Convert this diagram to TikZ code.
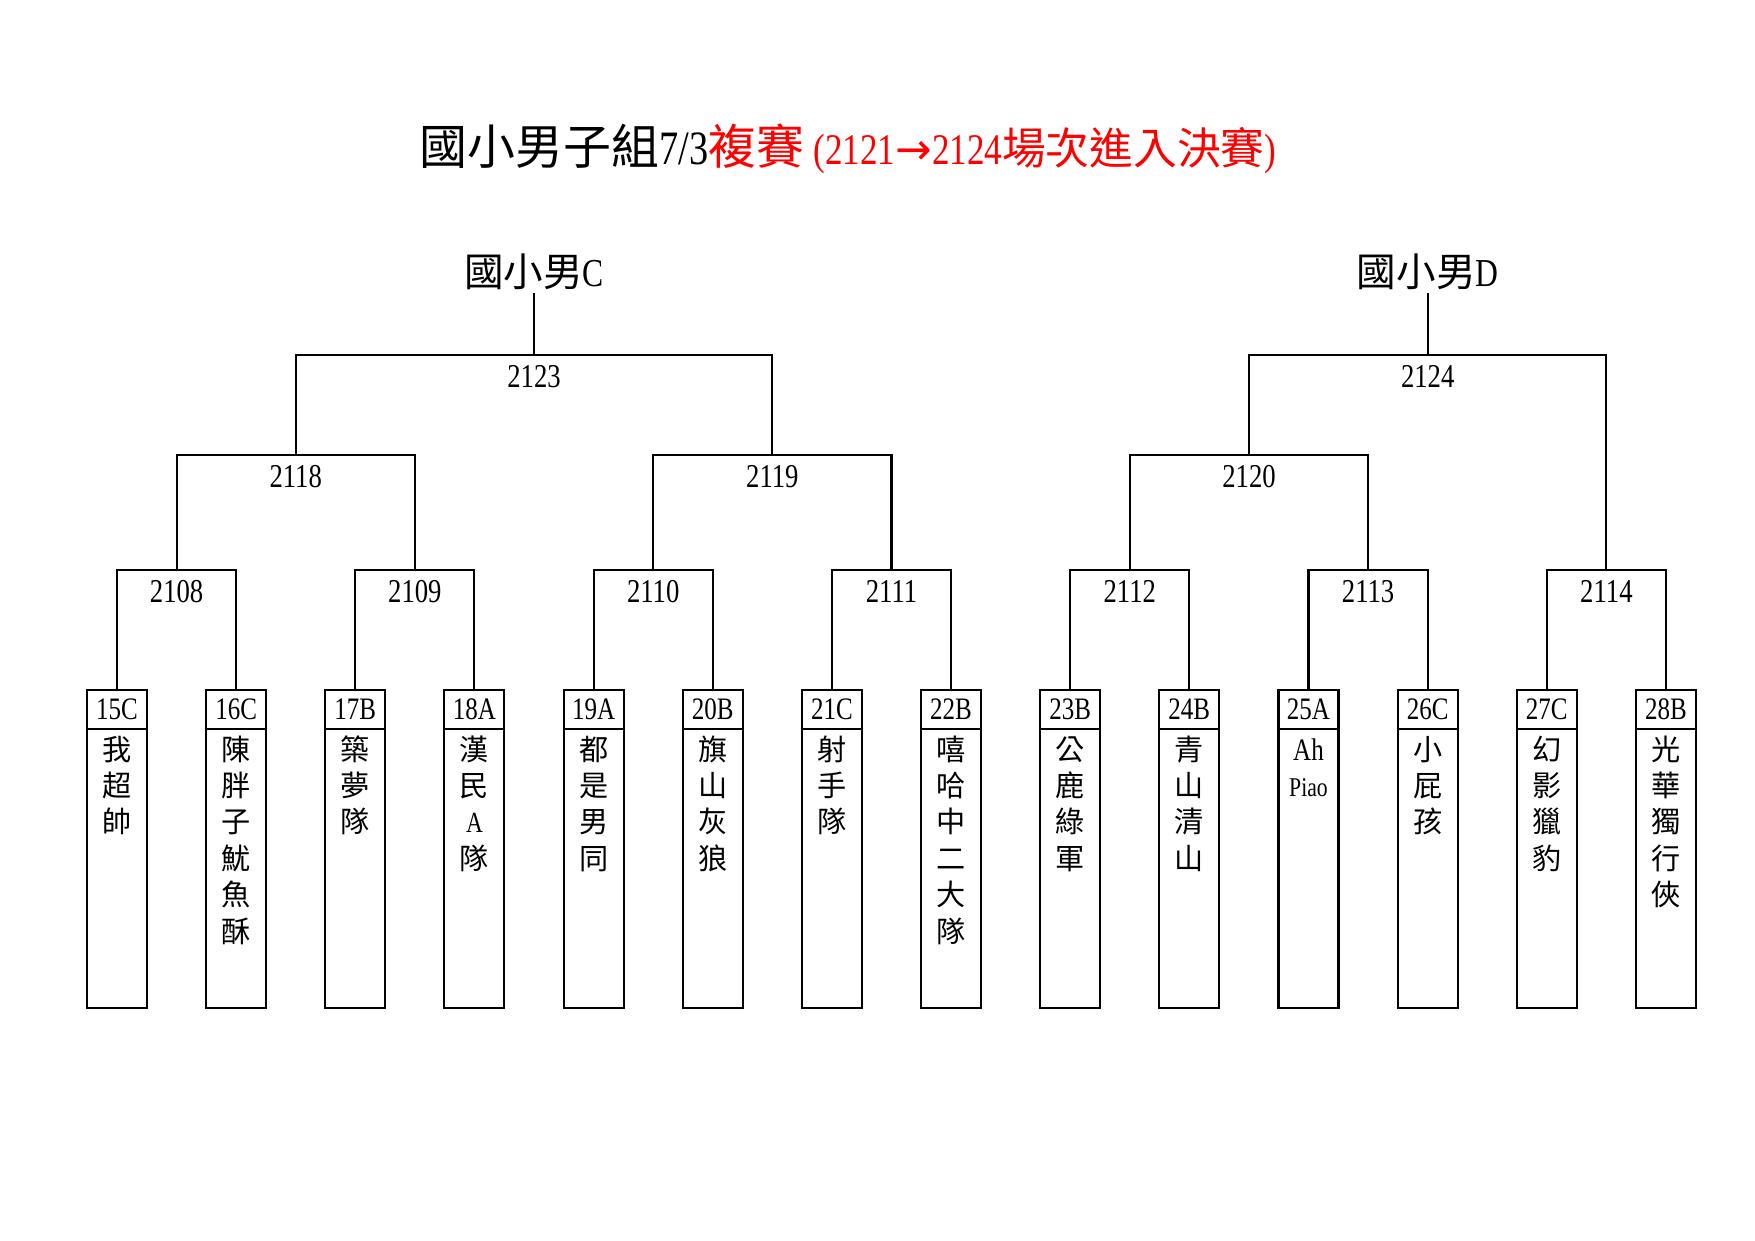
\documentclass[tikz,border=0pt]{standalone}
\usepackage{fontspec}
\setmainfont[FakeStretch=0.8]{Liberation Serif}
\newfontfamily\cjk{Noto Sans CJK TC}
\newfontfamily\sym{DejaVu Sans}
\usetikzlibrary{positioning}
\tikzset{
node distance=57.19pt, % centre to centre distance of two team boxes
team/.style={draw, outer sep=0pt, inner sep=0pt, minimum width=28.8pt, minimum height=18.7pt, font=\fontsize{15}{18}\selectfont}, % head of a team box
roster/.style={draw, outer sep=0pt, inner sep=0pt, text width=28.8pt, align=center, text height=14.9pt, text depth=119pt, font=\cjk\fontsize{14}{17.5}\selectfont}, % body of a team box
game/.style={anchor=north, inner xsep=0pt, inner ysep=4.5pt, font=\fontsize{16}{19}\selectfont}, % match number below a bracket
group/.style={anchor=south, inner sep=1pt, font=\fontsize{19}{22}\selectfont}, % group name on top
}

\begin{document}
\begin{tikzpicture}[x=0.48pt, y=-0.48pt, line width=1pt]
    \useasboundingbox (0,0) rectangle (1755,1241);
    \node[font=\fontsize{23}{27}\selectfont] (head) at (848,149) {{\cjk 國小男子組}7/3\textcolor{red}{{\cjk 複賽} \fontsize{21}{25}\selectfont(2121{\sym →}2124{\cjk 場次進入決賽})}};

    % teams
    \node[team] (t15C) at (117,709.5) {15C};
    \node[team, right of=t15C] (t16C) {16C};
    \node[team, right of=t16C] (t17B) {17B};
    \node[team, right of=t17B] (t18A) {18A};
    \node[team, right of=t18A] (t19A) {19A};
    \node[team, right of=t19A] (t20B) {20B};
    \node[team, right of=t20B] (t21C) {21C};
    \node[team, right of=t21C] (t22B) {22B};
    \node[team, right of=t22B] (t23B) {23B};
    \node[team, right of=t23B] (t24B) {24B};
    \node[team, right of=t24B] (t25A) {25A};
    \node[team, right of=t25A] (t26C) {26C};
    \node[team, right of=t26C] (t27C) {27C};
    \node[team, right of=t27C] (t28B) {28B};
    \node[roster, below=0pt of t15C] (r15C) {我\\超\\帥};
    \node[roster, below=0pt of t16C] (r16C) {陳\\胖\\子\\魷\\魚\\酥};
    \node[roster, below=0pt of t17B] (r17B) {築\\夢\\隊};
    \node[roster, below=0pt of t18A] (r18A) {漢\\民\\{\rmfamily A}\\隊};
    \node[roster, below=0pt of t19A] (r19A) {都\\是\\男\\同};
    \node[roster, below=0pt of t20B] (r20B) {旗\\山\\灰\\狼};
    \node[roster, below=0pt of t21C] (r21C) {射\\手\\隊};
    \node[roster, below=0pt of t22B] (r22B) {嘻\\哈\\中\\二\\大\\隊};
    \node[roster, below=0pt of t23B] (r23B) {公\\鹿\\綠\\軍};
    \node[roster, below=0pt of t24B] (r24B) {青\\山\\清\\山};
    \node[roster, below=0pt of t25A] (r25A) {{\rmfamily\fontsize{15}{16}\selectfont Ah}\\{\rmfamily\fontsize{13}{15}\selectfont Piao}};
    \node[roster, below=0pt of t26C] (r26C) {小\\屁\\孩};
    \node[roster, below=0pt of t27C] (r27C) {幻\\影\\獵\\豹};
    \node[roster, below=0pt of t28B] (r28B) {光\\華\\獨\\行\\俠};

    % matches
    \node[game] (m2108) at (176.6,570) {2108};
    \node[game] (m2109) at (414.9,570) {2109};
    \node[game] (m2110) at (653.2,570) {2110};
    \node[game] (m2111) at (891.5,570) {2111};
    \node[game] (m2112) at (1129.8,570) {2112};
    \node[game] (m2113) at (1368.1,570) {2113};
    \node[game] (m2114) at (1606.4,570) {2114};
    \node[game] (m2118) at (295.7,455) {2118};
    \node[game] (m2119) at (772.4,455) {2119};
    \node[game] (m2120) at (1249,455) {2120};
    \node[game] (m2123) at (534,355) {2123};
    \node[game] (m2124) at (1427.7,355) {2124};
    \node[group] (gC) at (534,293) {{\cjk 國小男}C};
    \node[group] (gD) at (1427.7,293) {{\cjk 國小男}D};

    \draw
    (t15C.north) |- (m2108.north) -| (t16C.north)
    (t17B.north) |- (m2109.north) -| (t18A.north)
    (t19A.north) |- (m2110.north) -| (t20B.north)
    (t21C.north) |- (m2111.north) -| (t22B.north)
    (t23B.north) |- (m2112.north) -| (t24B.north)
    (t25A.north) |- (m2113.north) -| (t26C.north)
    (t27C.north) |- (m2114.north) -| (t28B.north)
    (m2108.north) |- (m2118.north) -| (m2109.north)
    (m2110.north) |- (m2119.north) -| (m2111.north)
    (m2112.north) |- (m2120.north) -| (m2113.north)
    (m2118.north) |- (m2123.north) -| (m2119.north)
    (m2120.north) |- (m2124.north) -| (m2114.north)
    (m2123.north) -- (gC.south)
    (m2124.north) -- (gD.south);
  \end{tikzpicture}
\end{document}
